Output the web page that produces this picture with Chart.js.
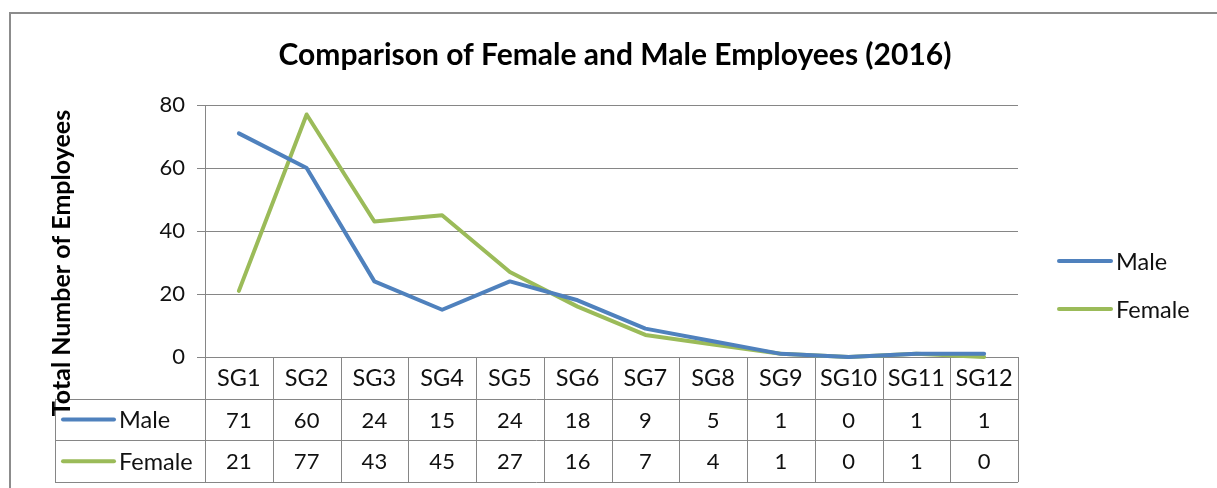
<!DOCTYPE html>
<html>
<head>
<meta charset="utf-8">
<title>Comparison of Female and Male Employees (2016)</title>
<script src="https://cdn.jsdelivr.net/npm/chart.js@4/dist/chart.umd.min.js"></script>
<style>
  html, body { margin: 0; padding: 0; background: #fff; }
  canvas { display: block; }
</style>
</head>
<body>
<canvas id="empChart" width="1217" height="488"></canvas>
<script>
// chart data
var categories = ['SG1', 'SG2', 'SG3', 'SG4', 'SG5', 'SG6', 'SG7', 'SG8', 'SG9', 'SG10', 'SG11', 'SG12'];
var maleValues = [71, 60, 24, 15, 24, 18, 9, 5, 1, 0, 1, 1];
var femaleValues = [21, 77, 43, 45, 27, 16, 7, 4, 1, 0, 1, 0];
var yTicks = [0, 20, 40, 60, 80];

var FONT = 'Lato, "Open Sans", sans-serif';
var GRID = '#868686';

// draws the data table under the axis, the y title, the legend and the outer frame
var tablePlugin = {
  id: 'dataTable',
  beforeDraw: function (chart) {
    var ctx = chart.ctx;
    ctx.save();
    ctx.strokeStyle = '#8c8c8c';
    ctx.lineWidth = 2;
    ctx.strokeRect(10, 13, chart.width + 40, chart.height + 40);
    ctx.restore();
  },
  beforeDatasetsDraw: function (chart) {
    var ctx = chart.ctx;
    var area = chart.chartArea;
    var x = chart.scales.x;
    var colW = (area.right - area.left) / categories.length;
    var rowH = 41.7;
    var top = area.bottom;
    var keyLeft = 55;
    var rows = [null].concat(chart.data.datasets);

    ctx.save();
    ctx.strokeStyle = GRID;
    ctx.lineWidth = 1;
    ctx.beginPath();
    // horizontal lines
    for (var r = 1; r <= 3; r++) {
      var yy = Math.round(top + r * rowH) + 0.5;
      ctx.moveTo(keyLeft, yy);
      ctx.lineTo(area.right, yy);
    }
    // vertical lines
    for (var c = 0; c <= categories.length; c++) {
      var xx = Math.round(area.left + c * colW) + 0.5;
      ctx.moveTo(xx, top);
      ctx.lineTo(xx, top + 3 * rowH);
    }
    ctx.moveTo(keyLeft + 0.5, top + rowH);
    ctx.lineTo(keyLeft + 0.5, top + 3 * rowH);
    ctx.stroke();

    ctx.fillStyle = '#111';
    ctx.textAlign = 'center';
    ctx.textBaseline = 'middle';
    rows.forEach(function (ds, r) {
      var cy = top + (r + 0.5) * rowH;
      ctx.font = (ds ? '22px ' : '23.5px ') + FONT;
      categories.forEach(function (cat, i) {
        var cx = x.getPixelForTick(i);
        ctx.fillText(ds ? String(ds.data[i]) : cat, cx, cy + 1);
      });
      if (ds) {
        ctx.strokeStyle = ds.borderColor;
        ctx.lineWidth = 4;
        ctx.lineCap = 'round';
        ctx.beginPath();
        ctx.moveTo(63, cy);
        ctx.lineTo(114, cy);
        ctx.stroke();
        ctx.font = '23.5px ' + FONT;
        ctx.textAlign = 'left';
        ctx.fillText(ds.label, 119, cy + 1);
        ctx.textAlign = 'center';
      }
    });
    ctx.restore();
  },
  afterDraw: function (chart) {
    var ctx = chart.ctx;
    ctx.save();
    // y axis title
    ctx.translate(62, 263);
    ctx.rotate(-Math.PI / 2);
    ctx.fillStyle = '#000';
    ctx.font = 'bold 25px ' + FONT;
    ctx.textAlign = 'center';
    ctx.textBaseline = 'middle';
    ctx.fillText('Total Number of Employees', 0, 0);
    ctx.restore();

    // legend on the right
    ctx.save();
    ctx.font = '23.5px ' + FONT;
    ctx.textAlign = 'left';
    ctx.textBaseline = 'middle';
    ctx.fillStyle = '#111';
    chart.data.datasets.forEach(function (ds, i) {
      var ly = 261 + i * 48;
      ctx.strokeStyle = ds.borderColor;
      ctx.lineWidth = 4;
      ctx.lineCap = 'round';
      ctx.beginPath();
      ctx.moveTo(1059, ly);
      ctx.lineTo(1111, ly);
      ctx.stroke();
      ctx.fillText(ds.label, 1116, ly + 1);
    });
    ctx.restore();
  }
};

new Chart(document.getElementById('empChart'), {
  type: 'line',
  data: {
    labels: categories,
    datasets: [{
      label: 'Male',
      data: maleValues,
      borderColor: '#4F81BD',
      backgroundColor: '#4F81BD',
      borderWidth: 4,
      pointRadius: 0,
      tension: 0,
      borderCapStyle: 'round',
      borderJoinStyle: 'round',
      clip: false
    }, {
      label: 'Female',
      data: femaleValues,
      borderColor: '#9BBB59',
      backgroundColor: '#9BBB59',
      borderWidth: 4,
      pointRadius: 0,
      tension: 0,
      borderCapStyle: 'round',
      borderJoinStyle: 'round',
      clip: false
    }]
  },
  options: {
    responsive: false,
    animation: false,
    layout: { padding: { top: 12, left: 22, right: 9, bottom: 6 } },
    plugins: {
      legend: { display: false },
      tooltip: { enabled: false },
      title: {
        display: true,
        text: 'Comparison of Female and Male Employees (2016)',
        color: '#000',
        font: { family: FONT, size: 30, weight: 'bold' },
        padding: { top: 25, bottom: 32 }
      }
    },
    scales: {
      x: {
        type: 'category',
        offset: true,
        ticks: { display: false },
        grid: { display: false },
        border: { display: false },
        afterFit: function (s) { s.height = 125; }
      },
      y: {
        min: 0,
        max: 80,
        afterBuildTicks: function (s) {
          s.ticks = yTicks.map(function (v) { return { value: v }; });
        },
        ticks: { color: '#111', font: { family: FONT, size: 22 }, padding: 12 },
        grid: { color: GRID, lineWidth: 1, tickLength: 8 },
        border: { display: true, color: GRID, width: 1 },
        afterFit: function (s) { s.width = 183; }
      },
      y2: {
        position: 'right',
        display: true,
        ticks: { display: false },
        grid: { display: false },
        border: { display: false },
        afterFit: function (s) { s.width = 190; }
      }
    }
  },
  plugins: [tablePlugin]
});
</script>
</body>
</html>
